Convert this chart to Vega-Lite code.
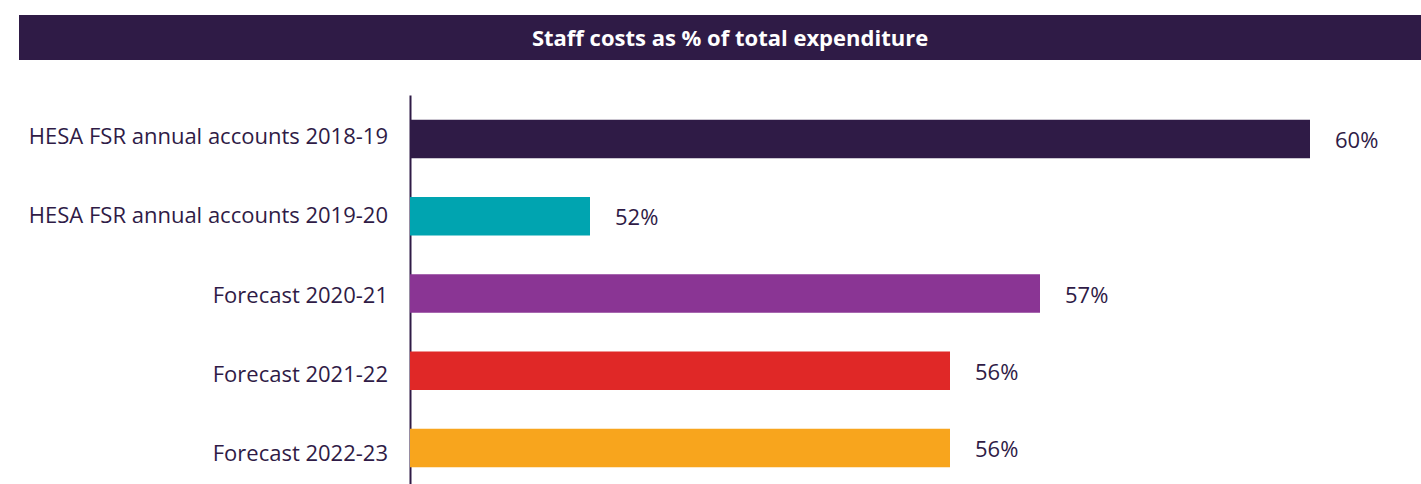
{
  "$schema": "https://vega.github.io/schema/vega-lite/v6.json",
  "padding": {"left": 19, "top": 15, "right": 0, "bottom": 0},
  "background": "white",
  "spacing": 35,
  "config": {"font": "Open Sans", "view": {"stroke": null}},
  "datasets": {
    "costs": [
      {"category": "HESA FSR annual accounts 2018-19", "value": 60, "label": "60%"},
      {"category": "HESA FSR annual accounts 2019-20", "value": 52, "label": "52%"},
      {"category": "Forecast 2020-21", "value": 57, "label": "57%"},
      {"category": "Forecast 2021-22", "value": 56, "label": "56%"},
      {"category": "Forecast 2022-23", "value": 56, "label": "56%"}
    ]
  },
  "vconcat": [
    {
      "width": 1402,
      "height": 45,
      "view": {"fill": "#2f1b46", "stroke": null},
      "data": {"values": [{"title": "Staff costs as % of total expenditure"}]},
      "mark": {"type": "text", "color": "white", "fontSize": 22, "fontWeight": "bold", "font": "Open Sans", "align": "center", "baseline": "middle", "dx": 10, "dy": 1},
      "encoding": {"text": {"field": "title"}}
    },
    {
      "spacing": 0,
      "hconcat": [
        {
          "width": 391,
          "height": 397,
          "data": {"name": "costs"},
          "mark": {"type": "text", "align": "right", "baseline": "alphabetic", "dx": -22, "dy": 9, "fontSize": 22, "color": "#2f1b46", "font": "Open Sans"},
          "encoding": {
            "y": {"field": "category", "type": "nominal", "sort": null,
              "scale": {"paddingInner": 0.5, "paddingOuter": 0.32}, "axis": null},
            "x": {"datum": 1, "type": "quantitative", "scale": {"domain": [0, 1]}, "axis": null},
            "text": {"field": "category"}
          }
        },
        {
          "width": 900,
          "height": 397,
          "data": {"name": "costs"},
          "encoding": {
            "y": {
              "field": "category", "type": "nominal", "sort": null,
              "scale": {"paddingInner": 0.5, "paddingOuter": 0.32},
              "axis": {"title": null, "ticks": false, "labels": false, "domainColor": "#2f1b46", "domainWidth": 2, "minExtent": 0}
            }
          },
          "layer": [
            {
              "mark": {"type": "bar", "clip": true},
              "encoding": {
                "x": {"field": "value", "type": "quantitative", "scale": {"domain": [50, 60], "zero": false}, "axis": null},
                "x2": {"datum": 50},
                "color": {"field": "category", "type": "nominal", "sort": null, "legend": null,
                  "scale": {"range": ["#2f1b46", "#00a4b0", "#8a3594", "#e02827", "#f8a51d"]}}
              }
            },
            {
              "mark": {"type": "text", "align": "left", "baseline": "alphabetic", "dx": 25, "dy": 9, "fontSize": 22, "color": "#2f1b46", "font": "Open Sans"},
              "encoding": {
                "x": {"field": "value", "type": "quantitative"},
                "text": {"field": "label"}
              }
            }
          ]
        }
      ]
    }
  ]
}
